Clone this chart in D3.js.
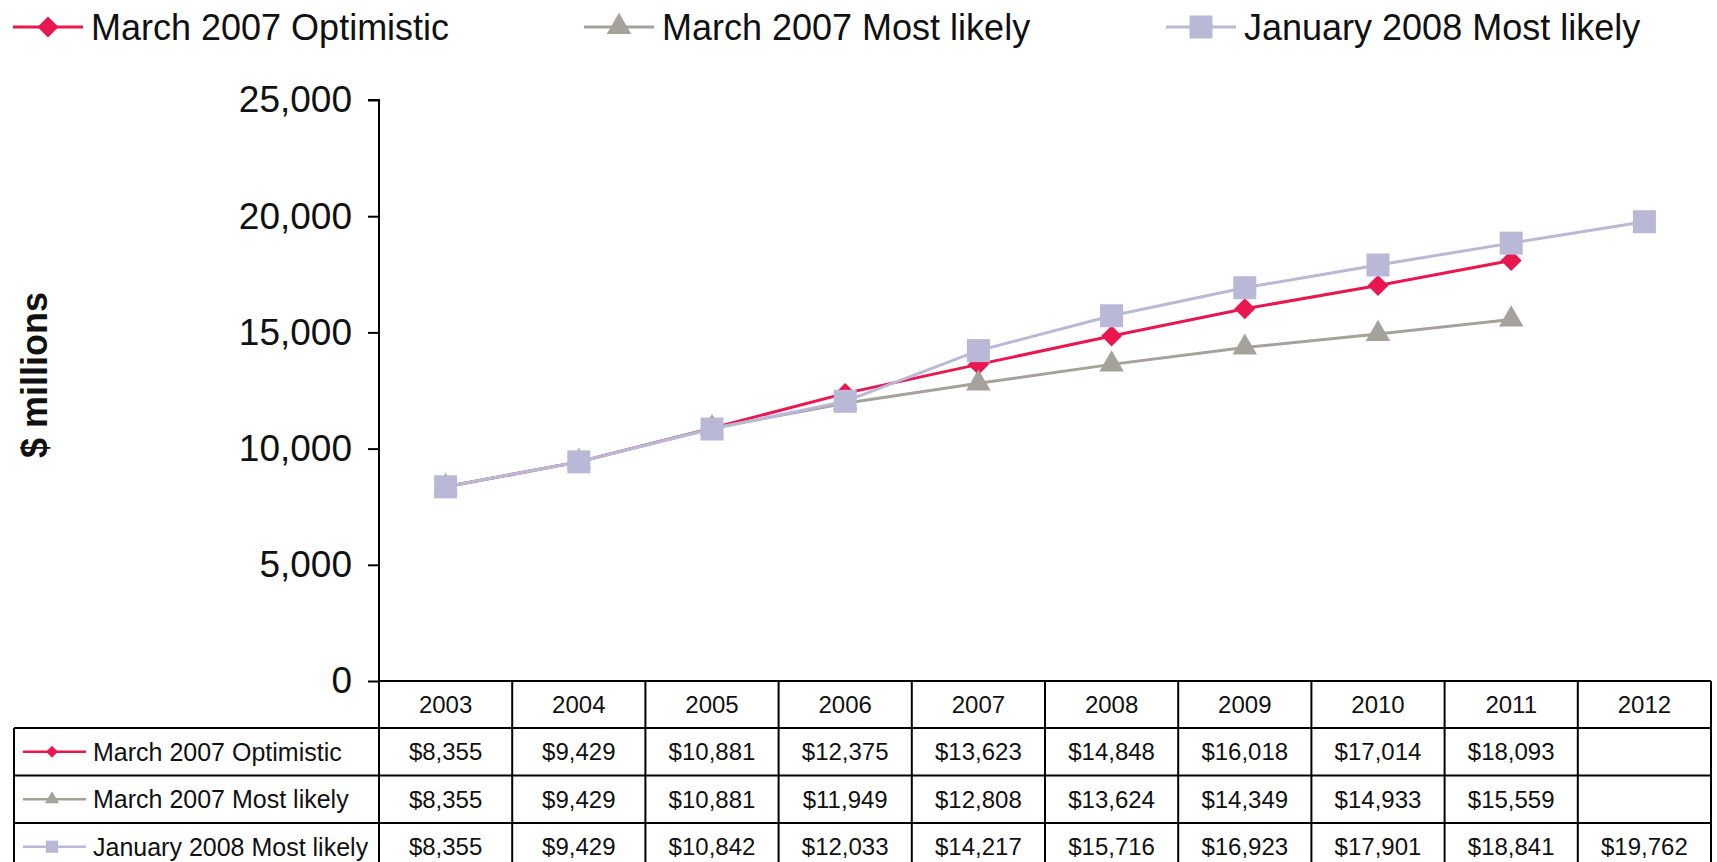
<!DOCTYPE html>
<html>
<head>
<meta charset="utf-8">
<script src="https://cdn.jsdelivr.net/npm/d3@7"></script>
<style>
  html, body { margin: 0; padding: 0; background: #fff; }
  svg { display: block; font-family: "Liberation Sans", Arial, sans-serif; }
</style>
</head>
<body>
<svg id="chart" width="1717" height="862"></svg>
<script>
// ---- Data ----
const years = ["2003", "2004", "2005", "2006", "2007", "2008", "2009", "2010", "2011", "2012"];
const seriesNames = ["March 2007 Optimistic", "March 2007 Most likely", "January 2008 Most likely"];
const optimistic = [8355, 9429, 10881, 12375, 13623, 14848, 16018, 17014, 18093, null];
const mostLikely = [8355, 9429, 10881, 11949, 12808, 13624, 14349, 14933, 15559, null];
const jan2008    = [8355, 9429, 10842, 12033, 14217, 15716, 16923, 17901, 18841, 19762];
const yTicks = [0, 5000, 10000, 15000, 20000, 25000];
const yTitle = "$ millions";

// ---- Styles ----
const series = [
  { name: seriesNames[0], values: optimistic, color: "#E9174F", shape: "diamond", width: 3 },
  { name: seriesNames[1], values: mostLikely, color: "#A5A29B", shape: "triangle", width: 3 },
  { name: seriesNames[2], values: jan2008,    color: "#B9B8D7", shape: "square", width: 3 }
];

const svg = d3.select("#chart");

const x = d3.scaleBand().domain(years).range([379, 1711]).padding(0);
const y = d3.scaleLinear().domain([0, 25000]).range([681, 100]);
const cx = d => x(d) + x.bandwidth() / 2;

function symbolPath(shape, big) {
  if (shape === "diamond") return d3.symbol(d3.symbolSquare, big ? 220 : 70)();
  if (shape === "triangle") return d3.symbol(d3.symbolTriangle, big ? 260 : 85)();
  return d3.symbol(d3.symbolSquare, big ? 530 : 150)();
}
function symbolTransform(shape, px, py) {
  return shape === "diamond" ? `translate(${px},${py}) rotate(45)` : `translate(${px},${py})`;
}

// ---- Y axis ----
const yAxis = d3.axisLeft(y).tickValues(yTicks).tickFormat(d3.format(",")).tickSize(11).tickPadding(16);
const gy = svg.append("g").attr("transform", "translate(379,0)").call(yAxis);
gy.select(".domain").attr("stroke", "#000").attr("stroke-width", 2).attr("d", "M-11,100H0V681");
gy.selectAll(".tick line").attr("stroke", "#000").attr("stroke-width", 2);
gy.selectAll(".tick text").attr("font-size", 37).attr("fill", "#111")
  .attr("font-family", "'Liberation Sans', Arial, sans-serif");

svg.append("text")
  .attr("transform", "translate(47,375) rotate(-90)")
  .attr("text-anchor", "middle")
  .attr("font-size", 36).attr("font-weight", "bold").attr("fill", "#111")
  .text(yTitle);

// ---- Lines and markers ----
const line = d3.line()
  .defined(d => d.v != null)
  .x(d => cx(d.year))
  .y(d => y(d.v));

series.forEach(s => {
  const pts = years.map((yr, i) => ({ year: yr, v: s.values[i] }));
  const g = svg.append("g");
  g.append("path").datum(pts)
    .attr("d", line).attr("fill", "none")
    .attr("stroke", s.color).attr("stroke-width", s.width);
  g.selectAll("path.m").data(pts.filter(d => d.v != null)).enter().append("path")
    .attr("class", "m")
    .attr("d", symbolPath(s.shape, true))
    .attr("transform", d => symbolTransform(s.shape, cx(d.year), y(d.v)))
    .attr("fill", s.color);
});

// ---- Top legend ----
const legendX = [13, 584, 1166];
series.forEach((s, i) => {
  const g = svg.append("g").attr("transform", `translate(${legendX[i]},27)`);
  g.append("line").attr("x1", 0).attr("x2", 70).attr("y1", 0).attr("y2", 0)
    .attr("stroke", s.color).attr("stroke-width", 3);
  g.append("path").attr("d", symbolPath(s.shape, true))
    .attr("transform", symbolTransform(s.shape, 35, 0)).attr("fill", s.color);
  g.append("text").attr("x", 78).attr("y", 13)
    .attr("font-size", 36).attr("fill", "#111").text(s.name);
});

// ---- Data table ----
const rowTop = [681, 728, 775.5, 823, 870.5];
const tableLeft = 14, tableRight = 1711;
const tg = svg.append("g");

// header row (years)
tg.selectAll("text.yr").data(years).enter().append("text")
  .attr("class", "yr")
  .attr("x", d => cx(d)).attr("y", (rowTop[0] + rowTop[1]) / 2 + 8.5)
  .attr("text-anchor", "middle").attr("font-size", 24).attr("fill", "#111")
  .text(d => d);

// data rows
const money = v => v == null ? "" : "$" + d3.format(",")(v);
series.forEach((s, i) => {
  const ymid = (rowTop[i + 1] + rowTop[i + 2]) / 2;
  tg.selectAll(null).data(years.map((yr, j) => ({ year: yr, v: s.values[j] }))).enter().append("text")
    .attr("x", d => cx(d.year)).attr("y", ymid + 8.5)
    .attr("text-anchor", "middle").attr("font-size", 24).attr("fill", "#111")
    .text(d => money(d.v));
  tg.append("line").attr("x1", 23).attr("x2", 86).attr("y1", ymid).attr("y2", ymid)
    .attr("stroke", s.color).attr("stroke-width", 2.5);
  tg.append("path").attr("d", symbolPath(s.shape, false))
    .attr("transform", symbolTransform(s.shape, 52, ymid)).attr("fill", s.color);
  tg.append("text").attr("x", 93).attr("y", ymid + 9)
    .attr("font-size", 25).attr("fill", "#111").text(s.name);
});

// grid lines of the table
function hline(x1, x2, yy) {
  tg.append("line").attr("x1", x1).attr("x2", x2).attr("y1", yy).attr("y2", yy)
    .attr("stroke", "#000").attr("stroke-width", 2);
}
function vline(xx, y1, y2) {
  tg.append("line").attr("x1", xx).attr("x2", xx).attr("y1", y1).attr("y2", y2)
    .attr("stroke", "#000").attr("stroke-width", 2);
}
hline(379, tableRight, rowTop[0]);
hline(tableLeft, tableRight, rowTop[1]);
hline(tableLeft, tableRight, rowTop[2]);
hline(tableLeft, tableRight, rowTop[3]);
hline(tableLeft, tableRight, rowTop[4]);
vline(tableLeft, rowTop[1], rowTop[4]);
years.forEach(yr => vline(x(yr), rowTop[0], rowTop[4]));
vline(tableRight, rowTop[0], rowTop[4]);
</script>
</body>
</html>
